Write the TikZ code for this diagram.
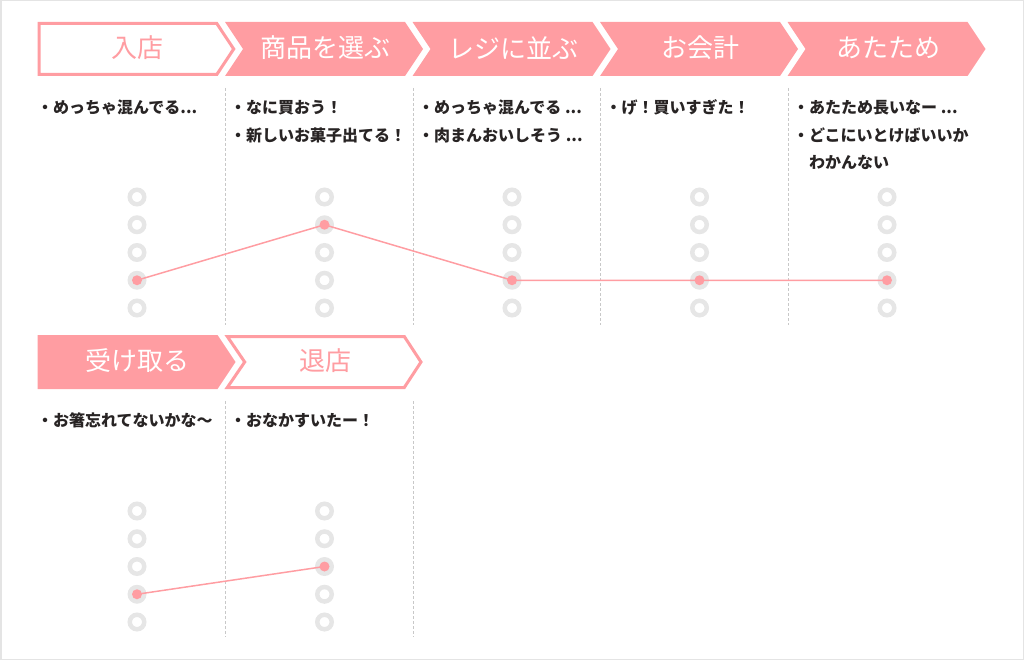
\documentclass[tikz,border=0pt]{standalone}
\usepackage{fontspec}
\newfontfamily\jp{Noto Sans CJK JP}
\definecolor{pk}{RGB}{255,157,162}
\definecolor{ringc}{RGB}{230,230,230}
\definecolor{txt}{RGB}{40,36,36}
\definecolor{dashc}{RGB}{200,200,200}
\definecolor{framec}{RGB}{228,228,228}
\begin{document}
\begin{tikzpicture}[x=1pt,y=-1pt,
  chevfill/.style={fill=pk},
  chevline/.style={draw=pk, line width=3pt, line join=miter, fill=white},
  lab/.style={font=\jp\fontsize{26}{31}\selectfont, text=white, inner sep=0pt},
  labline/.style={lab, text=pk},
  bul/.style={font=\jp\bfseries\fontsize{16}{19}\selectfont, text=txt, inner sep=0pt, anchor=west},
  sep/.style={draw=dashc, line width=1pt, dash pattern=on 3pt off 2pt},
  ringn/.style={circle, draw=ringc, line width=4.5pt, minimum size=14.5pt, inner sep=0pt},
  seln/.style={circle, fill=ringc, minimum size=19pt, inner sep=0pt},
  dotn/.style={circle, fill=pk, minimum size=10pt, inner sep=0pt},
  curve/.style={draw=pk, line width=1.5pt}
]
\useasboundingbox (0,0) rectangle (1024,660);
\draw[draw=framec, line width=1.5pt] (0.75,0.75) rectangle (1023.25,659.25);

% ---------- row 1 chevrons ----------
\draw[chevline] (39,23.5) -- (216.8,23.5) -- (233.7,49) -- (216.8,74.5) -- (39,74.5) -- cycle;
\foreach \L in {225,412.5,600,787.5}{
  \fill[chevfill] (\L,22) -- ({\L+180},22) -- ({\L+198},49) -- ({\L+180},76) -- (\L,76) -- ({\L+18},49) -- cycle;
}
\node[labline] (h1) at (137,48) {入店};
\node[lab] (h2) at (325,48) {商品を選ぶ};
\node[lab] (h3) at (513,48) {レジに並ぶ};
\node[lab] (h4) at (700,48) {お会計};
\node[lab] (h5) at (888,48) {あたため};

% ---------- row 2 chevrons ----------
\fill[chevfill] (37.5,335) -- (217.5,335) -- (235.5,362) -- (217.5,389) -- (37.5,389) -- cycle;
\draw[chevline] (227.3,336.5) -- (404.3,336.5) -- (421,362) -- (404.3,387.5) -- (227.3,387.5) -- (244.7,362) -- cycle;
\node[lab] (h6) at (137,361) {受け取る};
\node[labline] (h7) at (325,361) {退店};

% ---------- separators ----------
\foreach \x in {225.5,413,600.5,788}{
  \draw[sep] (\x,88) -- (\x,325);
}
\foreach \x in {225.5,413}{
  \draw[sep] (\x,401) -- (\x,637);
}

% ---------- texts row 1 ----------
\node[bul] (t1a) at (37,107.5) {・めっちゃ混んでる...};
\node[bul] (t2a) at (230,107.5) {・なに買おう！};
\node[bul] (t2b) at (230,135) {・新しいお菓子出てる！};
\node[bul] (t3a) at (418,107.5) {・めっちゃ混んでる ...};
\node[bul] (t3b) at (418,135) {・肉まんおいしそう ...};
\node[bul] (t4a) at (605.5,107.5) {・げ！買いすぎた！};
\node[bul] (t5a) at (793,107.5) {・あたため長いなー ...};
\node[bul] (t5b) at (793,135) {・どこにいとけばいいか};
\node[bul] (t5c) at (809,162.5) {わかんない};

% ---------- texts row 2 ----------
\node[bul] (t6a) at (37,420.5) {・お箸忘れてないかな〜};
\node[bul] (t7a) at (230,420.5) {・おなかすいたー！};

% ---------- rating circles row 1 ----------
\foreach \c/\s in {1/4,2/2,3/4,4/4,5/4}{
  \foreach \k in {1,...,5}{
    \pgfmathsetmacro{\xx}{137+187.5*(\c-1)}
    \pgfmathsetmacro{\yy}{197+27.75*(\k-1)}
    \ifnum\k=\s
      \node[seln] (a\c) at (\xx,\yy) {};
    \else
      \node[ringn] (a\c-\k) at (\xx,\yy) {};
    \fi
  }
}
\draw[curve] (a1.center) -- (a2.center) -- (a3.center) -- (a4.center) -- (a5.center);
\foreach \c in {1,...,5}{
  \node[dotn] (p\c) at (a\c.center) {};
}

% ---------- rating circles row 2 ----------
\foreach \c/\s in {1/4,2/3}{
  \foreach \k in {1,...,5}{
    \pgfmathsetmacro{\xx}{137+187.5*(\c-1)}
    \pgfmathsetmacro{\yy}{511+27.75*(\k-1)}
    \ifnum\k=\s
      \node[seln] (b\c) at (\xx,\yy) {};
    \else
      \node[ringn] (b\c-\k) at (\xx,\yy) {};
    \fi
  }
}
\draw[curve] (b1.center) -- (b2.center);
\foreach \c in {1,2}{
  \node[dotn] (q\c) at (b\c.center) {};
}
\end{tikzpicture}
\end{document}
